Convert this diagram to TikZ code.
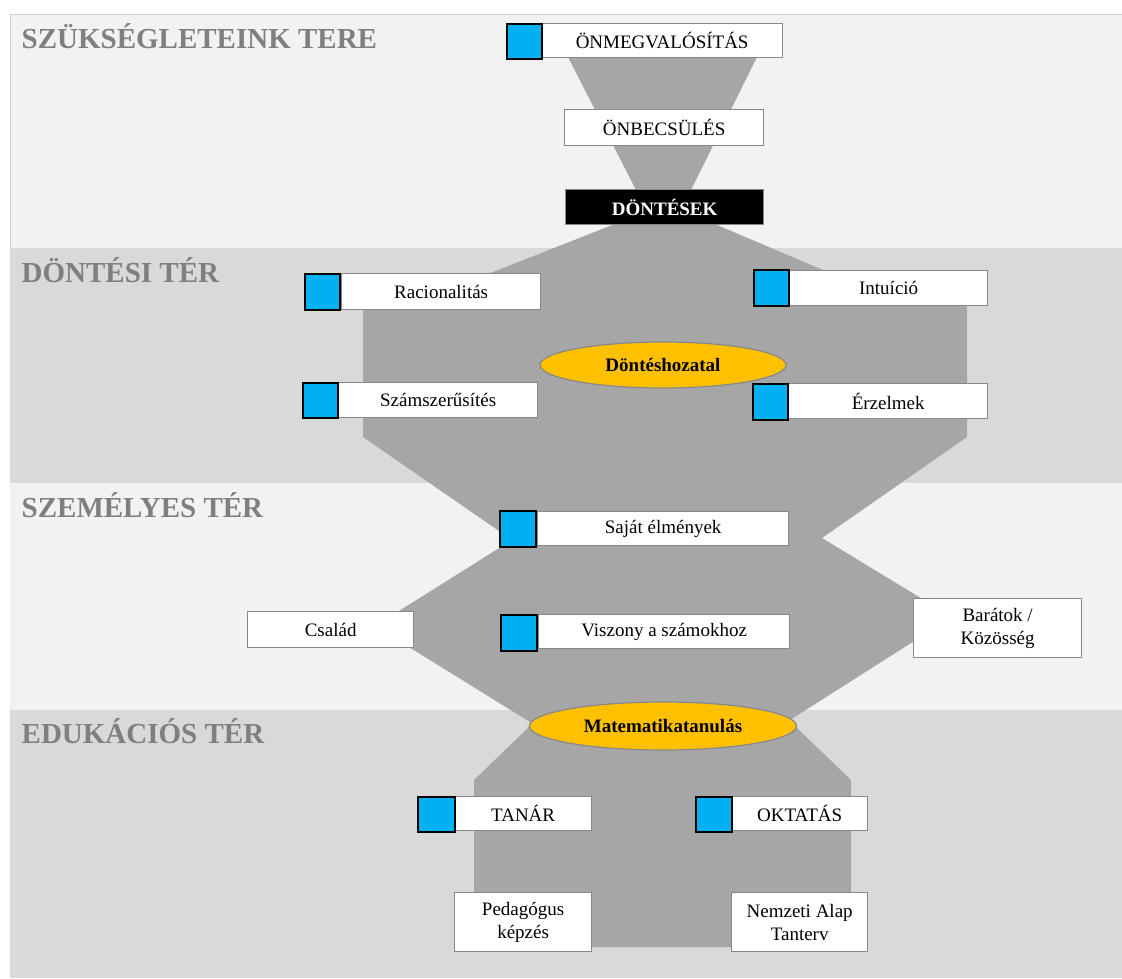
\documentclass[tikz,border=0pt]{standalone}
\usepackage{fontspec}
\setmainfont{LiberationSerif-Regular.ttf}[BoldFont=LiberationSerif-Bold.ttf]
\usetikzlibrary{shapes.geometric}

\definecolor{bandlight}{HTML}{F2F2F2}
\definecolor{banddark}{HTML}{D9D9D9}
\definecolor{bandedge}{HTML}{CFCFCF}
\definecolor{funnel}{HTML}{A6A6A6}
\definecolor{titlegrey}{HTML}{7F7F7F}
\definecolor{boxline}{HTML}{888888}
\definecolor{marker}{HTML}{00B0F0}
\definecolor{hub}{HTML}{FFC000}

\tikzset{
  labelbox/.style={draw=boxline, line width=1.3pt, fill=white, inner sep=0pt,
    anchor=north west, align=center, font=\fontsize{19}{23}\selectfont},
  darkbox/.style={labelbox, fill=black, text=white, font=\fontsize{19}{23}\selectfont\bfseries},
  markerbox/.style={draw=black, line width=1.6pt, fill=marker, inner sep=0pt,
    anchor=north west, minimum width=35, minimum height=35},
  hubnode/.style={ellipse, draw=boxline, line width=1.2pt, fill=hub, inner sep=0pt,
    font=\fontsize{19}{23}\selectfont\bfseries},
  spacetitle/.style={anchor=base west, inner sep=0pt, text=titlegrey,
    font=\fontsize{29}{32}\selectfont\bfseries}
}

\begin{document}
\begin{tikzpicture}[x=1pt, y=-1pt]
\useasboundingbox (0,0) rectangle (1122,978);

% horizontal bands of the four spaces
\fill[bandlight] (10,14) rectangle (1122,248);
\draw[bandedge, line width=0.8pt] (10,248) -- (10,14) -- (1122,14);
\fill[banddark]  (10,248) rectangle (1122,483);
\fill[bandlight] (10,483) rectangle (1122,710);
\fill[banddark]  (10,710) rectangle (1122,978);

% grey funnel behind the boxes
\fill[funnel] (568,57) -- (757,57) -- (690,192) -- (637,192) -- cycle;
\fill[funnel] (620,222) -- (710,222) -- (823,270) -- (967,300) -- (967,437)
  -- (822,538) -- (952,617) -- (790,720) -- (797,728) -- (851,780)
  -- (851,947) -- (474,947) -- (474,780) -- (528,728) -- (530,722)
  -- (375,626) -- (512,540) -- (363,437) -- (363,300) -- (493,272) -- cycle;

% space titles
\node[spacetitle] (t1) at (21.5,48)  {SZÜKSÉGLETEINK TERE};
\node[spacetitle] (t2) at (21.5,282) {DÖNTÉSI TÉR};
\node[spacetitle] (t3) at (21.5,517) {SZEMÉLYES TÉR};
\node[spacetitle] (t4) at (21.5,743) {EDUKÁCIÓS TÉR};

% needs
\node[labelbox, minimum width=241, minimum height=34] (selfreal) at (541,23) {ÖNMEGVALÓSÍTÁS};
\node[markerbox] (mselfreal) at (506,23) {};
\node[labelbox, minimum width=199, minimum height=36] (esteem) at (564,109) {ÖNBECSÜLÉS};
\node[darkbox, minimum width=198, minimum height=35] (decisions) at (565,189) {DÖNTÉSEK};

% decision space
\node[labelbox, minimum width=199, minimum height=36] (rational) at (341,273) {Racionalitás};
\node[markerbox, minimum height=36] (mrational) at (304,273) {};
\node[labelbox, minimum width=199, minimum height=35] (quant) at (338,382) {Számszerűsítés};
\node[markerbox] (mquant) at (302,382) {};
\node[labelbox, minimum width=198, minimum height=35] (intuition) at (789,270) {Intuíció};
\node[markerbox, minimum height=36] (mintuition) at (753,269) {};
\node[labelbox, minimum width=199, minimum height=35] (emotions) at (788,383) {Érzelmek};
\node[markerbox, minimum height=36] (memotions) at (752,383) {};
\node[hubnode, minimum width=246, minimum height=46] (decide) at (663,365) {Döntéshozatal};

% personal space
\node[labelbox, minimum width=251, minimum height=34] (experience) at (537,511) {Saját élmények};
\node[markerbox, minimum width=36, minimum height=36] (mexperience) at (499,510) {};
\node[labelbox, minimum width=251, minimum height=34] (numbers) at (538,614) {Viszony a számokhoz};
\node[markerbox, minimum width=36, minimum height=36] (mnumbers) at (500,614) {};
\node[labelbox, minimum width=166, minimum height=36] (family) at (247,611) {Család};
\node[labelbox, minimum width=168, minimum height=59] (friends) at (913,598) {Barátok /\\Közösség};

% education space
\node[hubnode, minimum width=267, minimum height=48] (learning) at (663,726) {Matematikatanulás};
\node[labelbox, minimum width=137, minimum height=34] (teacher) at (454,796) {TANÁR};
\node[markerbox, minimum width=37] (mteacher) at (417,796) {};
\node[labelbox, minimum width=136, minimum height=34] (teaching) at (731,796) {OKTATÁS};
\node[markerbox, minimum width=36] (mteaching) at (695,796) {};
\node[labelbox, minimum width=137, minimum height=59] (training) at (454,892) {Pedagógus\\képzés};
\node[labelbox, minimum width=136, minimum height=59] (curriculum) at (731,892) {Nemzeti Alap\\Tanterv};

\end{tikzpicture}
\end{document}
